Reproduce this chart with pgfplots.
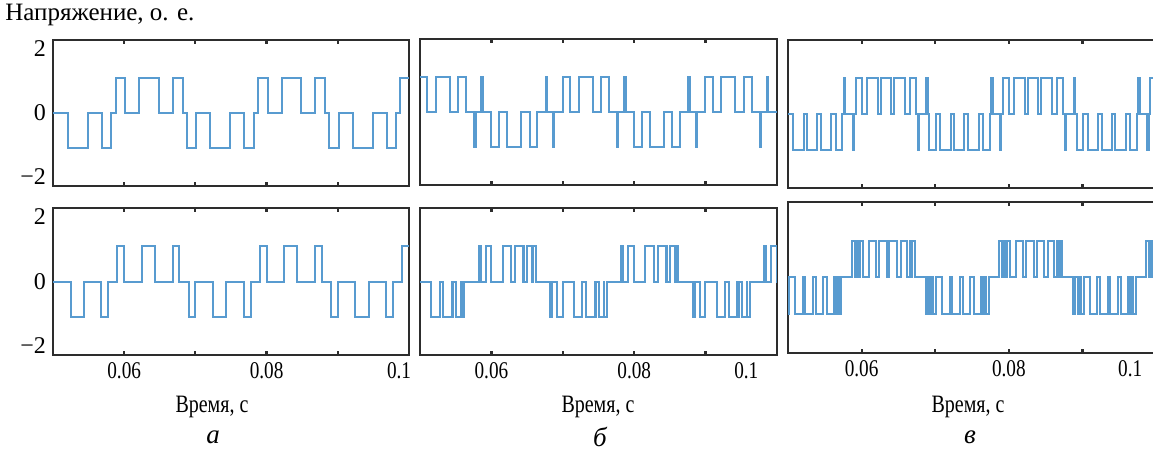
\documentclass[border=0pt]{standalone}
\usepackage{pgfplots}
\pgfplotsset{compat=1.18}
\usepackage{fontspec}
\setmainfont{Liberation Serif}
\newfontfamily\condensed[FakeStretch=0.8]{Liberation Serif}
\definecolor{wave}{RGB}{88,155,208}
\definecolor{frame}{RGB}{45,45,45}

\pgfplotsset{
  panel/.style={
    scale only axis, xmin=0.05, xmax=0.1, ymin=-2.28, ymax=2.28,
    axis line style={frame, line width=1.2pt},
    xtick={0.06,0.07,0.08,0.09},
    tick align=inside,
    major tick length=2pt,
    xtick style={frame, line width=1.1pt},
    ytick=\empty,
    xticklabels={},
    xticklabel style={font=\condensed\fontsize{12}{14}\selectfont},
    yticklabel style={font=\fontsize{12}{14}\selectfont},
    clip=true,
  },
  ylab/.style={ytick={-2,0,2}, yticklabels={−2,0,2}, ytick style={draw=none}},
  xlab/.style={xticklabels={0.06,,0.08,}, extra x ticks={#1}, extra x tick labels={0.1},
    extra x tick style={major tick length=0pt}},
  wv/.style={wave, line width=1pt, const plot, mark=none},
}

\begin{document}
\begin{tikzpicture}
\useasboundingbox (0,0) rectangle (576.5pt,225pt);

\node[anchor=west, font=\fontsize{12.5}{14}\selectfont, inner sep=0pt] at (2.5pt,217.5pt) {Напряжение, о. е.};

% a top
\begin{axis}[panel, ylab, at={(26.5pt,132pt)}, anchor=south west, width=178pt, height=73pt]
\addplot[wv] coordinates {(0.05,0) (0.0521,-1.1) (0.0549,0) (0.05685,-1.1) (0.0582,0) (0.0588,1.1) (0.06015,0) (0.0621,1.1) (0.0649,0) (0.06685,1.1) (0.0682,0) (0.0688,-1.1) (0.07015,0) (0.0721,-1.1) (0.0749,0) (0.07685,-1.1) (0.0782,0) (0.0788,1.1) (0.08015,0) (0.0821,1.1) (0.0849,0) (0.08685,1.1) (0.0882,0) (0.0888,-1.1) (0.09015,0) (0.0921,-1.1) (0.0949,0) (0.09685,-1.1) (0.0982,0) (0.0988,1.1) (0.1,1.1)};
\end{axis}

% b top
\begin{axis}[panel, at={(210pt,132.5pt)}, anchor=south west, width=178.5pt, height=73pt]
\addplot[wv] coordinates {(0.05,1.1) (0.05105,0) (0.05222,1.1) (0.05418,0) (0.05535,1.1) (0.05644,0) (0.0576,-1.1) (0.0578,0) (0.0586,1.1) (0.0588,0) (0.05996,-1.1) (0.06105,0) (0.06222,-1.1) (0.06418,0) (0.06535,-1.1) (0.06644,0) (0.0676,1.1) (0.0678,0) (0.0686,-1.1) (0.0688,0) (0.06996,1.1) (0.07105,0) (0.07222,1.1) (0.07418,0) (0.07535,1.1) (0.07644,0) (0.0776,-1.1) (0.0778,0) (0.0786,1.1) (0.0788,0) (0.07996,-1.1) (0.08105,0) (0.08222,-1.1) (0.08418,0) (0.08535,-1.1) (0.08644,0) (0.0876,1.1) (0.0878,0) (0.0886,-1.1) (0.0888,0) (0.08996,1.1) (0.09105,0) (0.09222,1.1) (0.09418,0) (0.09535,1.1) (0.09644,0) (0.0976,-1.1) (0.0978,0) (0.0986,1.1) (0.0988,0) (0.1,0)};
\end{axis}

% c top
\begin{axis}[panel, at={(394pt,131pt)}, anchor=south west, width=184pt, height=74pt]
\addplot[wv] coordinates {(0.05,0) (0.05071,-1.1) (0.05216,0) (0.05262,-1.1) (0.05398,0) (0.05444,-1.1) (0.05589,0) (0.05653,-1.1) (0.05739,0) (0.0576,1.1) (0.0578,0)
(0.0588,-1.1) (0.059,0) (0.05921,1.1) (0.06007,0) (0.06071,1.1) (0.06216,0) (0.06262,1.1) (0.06398,0) (0.06444,1.1) (0.06589,0) (0.06653,1.1) (0.06739,0) (0.0676,-1.1) (0.0678,0)
(0.0688,1.1) (0.069,0) (0.06921,-1.1) (0.07007,0) (0.07071,-1.1) (0.07216,0) (0.07262,-1.1) (0.07398,0) (0.07444,-1.1) (0.07589,0) (0.07653,-1.1) (0.07739,0) (0.0776,1.1) (0.0778,0)
(0.0788,-1.1) (0.079,0) (0.07921,1.1) (0.08007,0) (0.08071,1.1) (0.08216,0) (0.08262,1.1) (0.08398,0) (0.08444,1.1) (0.08589,0) (0.08653,1.1) (0.08739,0) (0.0876,-1.1) (0.0878,0)
(0.0888,1.1) (0.089,0) (0.08921,-1.1) (0.09007,0) (0.09071,-1.1) (0.09216,0) (0.09262,-1.1) (0.09398,0) (0.09444,-1.1) (0.09589,0) (0.09653,-1.1) (0.09739,0) (0.0976,1.1) (0.0978,0)
(0.0988,-1.1) (0.099,0) (0.09921,1.1) (0.1,1.1)};
\end{axis}

% a bottom
\begin{axis}[panel, ylab, xlab=0.0986, at={(26.5pt,47.5pt)}, anchor=south west, width=178pt, height=73.5pt]
\addplot[wv] coordinates {(0.05,0) (0.05246,-1.1) (0.05434,0) (0.0568,-1.1) (0.05775,0) (0.05905,1.1) (0.06,0) (0.06246,1.1) (0.06434,0) (0.0668,1.1) (0.06775,0) (0.06905,-1.1) (0.07,0) (0.07246,-1.1) (0.07434,0) (0.0768,-1.1) (0.07775,0) (0.07905,1.1) (0.08,0) (0.08246,1.1) (0.08434,0) (0.0868,1.1) (0.08775,0) (0.08905,-1.1) (0.09,0) (0.09246,-1.1) (0.09434,0) (0.0968,-1.1) (0.09775,0) (0.09905,1.1) (0.1,1.1)};
\end{axis}

% b bottom
\begin{axis}[panel, xlab=0.0957, at={(210pt,47.5pt)}, anchor=south west, width=178.5pt, height=73.5pt]
\addplot[wv] coordinates {(0.05,0) (0.05158,-1.1) (0.05275,0) (0.05327,-1.1) (0.05445,0) (0.05452,-1.1) (0.05463,0) (0.05505,-1.1) (0.05575,0) (0.05582,-1.1) (0.05618,0)
(0.0582,1.1) (0.05848,0) (0.05919,1.1) (0.05998,0) (0.06158,1.1) (0.06275,0) (0.06327,1.1) (0.06445,0) (0.06452,1.1) (0.06463,0) (0.06505,1.1) (0.06575,0) (0.06582,1.1) (0.06618,0)
(0.0682,-1.1) (0.06848,0) (0.06919,-1.1) (0.06998,0) (0.07158,-1.1) (0.07275,0) (0.07327,-1.1) (0.07445,0) (0.07452,-1.1) (0.07463,0) (0.07505,-1.1) (0.07575,0) (0.07582,-1.1) (0.07618,0)
(0.0782,1.1) (0.07848,0) (0.07919,1.1) (0.07998,0) (0.08158,1.1) (0.08275,0) (0.08327,1.1) (0.08445,0) (0.08452,1.1) (0.08463,0) (0.08505,1.1) (0.08575,0) (0.08582,1.1) (0.08618,0)
(0.0882,-1.1) (0.08848,0) (0.08919,-1.1) (0.08998,0) (0.09158,-1.1) (0.09275,0) (0.09327,-1.1) (0.09445,0) (0.09452,-1.1) (0.09463,0) (0.09505,-1.1) (0.09575,0) (0.09582,-1.1) (0.09618,0)
(0.0982,1.1) (0.09848,0) (0.09919,1.1) (0.09998,0) (0.1,0)};
\end{axis}

% c bottom
\begin{axis}[panel, xlab=0.0965, at={(394pt,48.5pt)}, anchor=south west, width=184pt, height=75.5pt]
\addplot[wv] coordinates {(0.05,-1.1) (0.05015,0) (0.05097,-1.1) (0.05197,0) (0.05234,-1.1) (0.05343,0) (0.05379,-1.1) (0.05479,0) (0.05529,-1.1) (0.0562,0) (0.05652,-1.1) (0.0568,0) (0.0569,-1.1) (0.05725,0)
(0.0587,1.1) (0.05906,0) (0.05934,1.1) (0.0596,0) (0.05975,1.1) (0.06015,0) (0.06097,1.1) (0.06197,0) (0.06234,1.1) (0.06343,0) (0.06379,1.1) (0.06479,0) (0.06529,1.1) (0.0662,0) (0.06652,1.1) (0.0668,0) (0.0669,1.1) (0.06725,0)
(0.0687,-1.1) (0.06906,0) (0.06934,-1.1) (0.0696,0) (0.06975,-1.1) (0.07015,0) (0.07097,-1.1) (0.07197,0) (0.07234,-1.1) (0.07343,0) (0.07379,-1.1) (0.07479,0) (0.07529,-1.1) (0.0762,0) (0.07652,-1.1) (0.0768,0) (0.0769,-1.1) (0.07725,0)
(0.0787,1.1) (0.07906,0) (0.07934,1.1) (0.0796,0) (0.07975,1.1) (0.08015,0) (0.08097,1.1) (0.08197,0) (0.08234,1.1) (0.08343,0) (0.08379,1.1) (0.08479,0) (0.08529,1.1) (0.0862,0) (0.08652,1.1) (0.0868,0) (0.0869,1.1) (0.08725,0)
(0.0887,-1.1) (0.08906,0) (0.08934,-1.1) (0.0896,0) (0.08975,-1.1) (0.09015,0) (0.09097,-1.1) (0.09197,0) (0.09234,-1.1) (0.09343,0) (0.09379,-1.1) (0.09479,0) (0.09529,-1.1) (0.0962,0) (0.09652,-1.1) (0.0968,0) (0.0969,-1.1) (0.09725,0)
(0.0987,1.1) (0.09906,0) (0.09934,1.1) (0.0996,0) (0.09975,1.1) (0.1,1.1)};
\end{axis}

\begin{scope}[every node/.style={font=\condensed\fontsize{12.5}{14}\selectfont}]
\node at (106pt,21.5pt) {Время, с};
\node at (299pt,21.5pt) {Время, с};
\node at (484pt,21.5pt) {Время, с};
\end{scope}
\begin{scope}[every node/.style={font=\fontsize{13.5}{15}\selectfont\itshape}]
\node at (106.5pt,6.5pt) {а};
\node at (300pt,6.5pt) {б};
\node at (485pt,6.5pt) {в};
\end{scope}
\end{tikzpicture}
\end{document}
